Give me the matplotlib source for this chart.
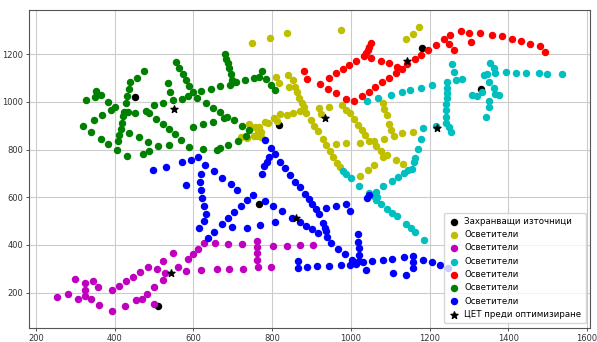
import matplotlib
matplotlib.use("Agg")
import matplotlib.pyplot as plt

# Захранващи източници (black dots)
src_x = [452, 817, 1181, 1330, 767, 509]
src_y = [1022, 904, 1228, 1053, 572, 143]

# ЦЕТ преди оптимизиране (stars)
cet_x = [551, 933, 1142, 1218, 861, 544]
cet_y = [969, 932, 1173, 892, 515, 283]

# yellow group
yel_x = [750, 795, 837, 974, 1139, 1157, 1174,
         810, 818, 840, 852, 844, 858, 862, 867, 875, 882, 886, 870, 852, 838, 821, 805,
         812, 790, 783, 767, 772, 762, 771, 741, 756, 721, 735, 755, 765,
         899, 907, 917, 928, 937, 947, 955, 966, 973,
         920, 924, 945, 962, 988,
         978, 987, 998, 1008, 1018, 1028, 1037, 1047, 1059, 1064, 1077, 1081, 1091,
         1044, 1059, 1024, 1023,
         1081, 1085, 1091, 1098, 1101, 1110, 1129, 1157, 1084, 1115, 1132]
yel_y = [1249, 1270, 1288, 1302, 1263, 1286, 1316,
         1104, 1080, 1114, 1091, 1064, 1063, 1040, 1017, 994, 977, 953, 964, 954, 945, 949, 934,
         922, 911, 916, 893, 874, 857, 853, 906, 894, 852, 848, 858, 880,
         923, 899, 876, 843, 818, 795, 769, 742, 725,
         976, 951, 980, 824, 827,
         987, 967, 952, 928, 904, 882, 860, 837, 836, 813, 796, 767, 777,
         715, 736, 690, 827,
         994, 969, 947, 909, 883, 856, 869, 874, 844, 757, 740]

# magenta group
mag_x = [253, 281, 300, 308, 324, 324, 324, 339, 345, 357, 360, 393, 394, 411, 428, 427,
         447, 454, 469, 464, 482, 485, 500, 499, 507, 523, 523, 528, 547, 560, 582, 586,
         598, 612, 619,
         627, 656, 689, 724, 761, 762, 762, 762, 764, 801, 837, 871, 904,
         659, 690, 726, 797]
mag_y = [182, 195, 258, 175, 240, 212, 185, 173, 248, 224, 150, 209, 122, 228, 248, 143,
         267, 167, 173, 286, 195, 309, 224, 152, 297, 333, 254, 284, 367, 307, 291, 340,
         360, 384, 296,
         410, 407, 405, 402, 417, 393, 368, 337, 306, 396, 396, 400, 400,
         300, 300, 301, 307]

# cyan group
cya_x = [979, 988, 1000, 1021, 1047, 1063, 1067, 1064, 1059,
         1077, 1092, 1104, 1117, 1139, 1152, 1164, 1187,
         1082, 1104, 1119, 1135, 1146, 1156, 1160, 1164, 1170, 1178, 1183,
         1040, 1070, 1101, 1129, 1151, 1178, 1207, 1215,
         1245, 1245, 1244, 1244, 1242, 1242, 1242, 1242, 1248, 1254,
         1256, 1261, 1266, 1282,
         1354, 1364, 1366, 1338, 1345, 1351, 1363, 1366, 1376, 1332, 1320, 1308, 1350, 1351, 1344,
         1395, 1419, 1446, 1479, 1498, 1537]
cya_y = [712, 698, 680, 649, 617, 620, 603, 589, 606,
         571, 551, 536, 520, 487, 470, 454, 420,
         646, 669, 684, 701, 715, 718, 747, 763, 802, 845, 889,
         1005, 1018, 1031, 1041, 1048, 1057, 1069, 899,
         1083, 1057, 1036, 1015, 992, 966, 935, 913, 893, 873,
         1158, 1124, 1092, 1095,
         1163, 1144, 1123, 1113, 1117, 1084, 1057, 1032, 1028, 1042, 1024, 1031, 1005, 979, 938,
         1126, 1123, 1123, 1123, 1116, 1116]

# red group
red_x = [1050, 1046, 1043, 1038, 1034, 1052, 1077, 1096, 1116, 1114, 1096, 1079, 1062, 1046,
         1028, 1008, 988, 962, 943, 921, 888, 882, 945, 963, 980, 996, 1012,
         1129, 1143, 1162, 1178, 1195, 1216, 1237, 1252, 1249, 1263, 1279, 1299, 1304,
         1329, 1358, 1383, 1409, 1432, 1456, 1481, 1493]
red_y = [1246, 1232, 1218, 1204, 1193, 1186, 1172, 1162, 1148, 1123, 1102, 1083, 1062, 1043,
         1025, 1004, 1013, 1036, 1056, 1074, 1095, 1131, 1099, 1123, 1137, 1154, 1172,
         1138, 1159, 1180, 1198, 1218, 1239, 1264, 1282, 1243, 1217, 1296, 1289, 1253,
         1289, 1282, 1277, 1265, 1256, 1244, 1235, 1210]

# green group
grn_x = [556, 564, 573, 581, 590, 598, 608, 587, 572, 547, 535, 540, 522, 499,
         475, 456, 440, 436, 432, 429, 424, 433, 452, 480, 486, 504, 523, 539, 552, 569, 588,
         598, 625, 649, 631, 650, 668, 677, 685, 703, 724, 742, 733, 712, 689, 668, 660, 625,
         421, 418, 415, 411, 409, 407, 431, 437, 461, 485, 487, 473, 510, 539,
         400, 391, 384, 368, 347, 319, 340, 365, 383, 326, 350, 352, 364,
         620, 645, 667, 692, 702, 708, 679, 683, 687, 691, 695, 699,
         732, 753, 767, 774, 785, 796, 807]
grn_y = [1168, 1141, 1116, 1090, 1065, 1041, 1015, 1025, 1012, 1007, 1080, 1041, 997, 986,
         1129, 1099, 1085, 1056, 1025, 997, 959, 957, 955, 961, 953, 930, 906, 886, 865, 840, 811,
         894, 907, 916, 996, 976, 958, 933, 937, 924, 901, 883, 859, 838, 821, 805, 798, 804,
         939, 912, 886, 862, 836, 798, 774, 870, 852, 833, 794, 783, 815, 818,
         980, 965, 999, 944, 924, 901, 875, 846, 824, 1007, 1020, 1047, 1028,
         1046, 1054, 1065, 1073, 1084, 1084, 1201, 1182, 1164, 1141, 1116, 1092,
         1094, 1100, 1106, 1131, 1098, 1071, 1050]

# blue group
blu_x = [498, 530, 570, 593, 612,
         630, 652, 673, 695, 710,
         620, 617, 619, 623, 627, 631, 626, 615, 581,
         783, 796, 807, 793, 787, 780, 773,
         820, 833, 845, 859, 871, 883, 894, 902, 911, 920, 930, 934, 937, 939, 949, 968, 985, 1003,
         751, 737, 721, 704, 688, 673, 652, 638,
         781, 801, 824, 807, 851, 871, 886, 901, 917,
         697, 737, 770,
         936, 962, 988, 999,
         1045, 1041,
         1017, 1018, 1020, 1021, 1021, 1032, 1038, 1054, 1081, 1105, 1107, 1135, 1159, 1159, 1159,
         1140, 1184, 1207, 1227, 1246,
         865, 865, 888, 913, 945, 975, 998, 1013]
blu_y = [714, 725, 746, 758, 771,
         736, 709, 679, 654, 632,
         697, 662, 632, 597, 564, 529, 501, 470, 653,
         839, 806, 781, 769, 748, 730, 699,
         746, 722, 694, 666, 643, 614, 591, 571, 551, 528, 494, 473, 459, 435, 408, 383, 363, 338,
         608, 589, 565, 539, 512, 488, 454, 428,
         583, 562, 542, 498, 515, 497, 480, 466, 451,
         475, 472, 484,
         557, 565, 572, 542,
         608, 596,
         445, 414, 387, 358, 333, 330, 293, 334, 337, 342, 282, 348, 354, 329, 302,
         272, 337, 327, 316, 305,
         333, 303, 307, 310, 312, 315, 317, 318]

fig = plt.figure(figsize=(5.97, 3.42), dpi=100)
ax = fig.add_axes([0.049, 0.042, 0.939, 0.929])

s = 19
ax.scatter(src_x, src_y, s=s, c='k', label='Захранващи източници')
ax.scatter(yel_x, yel_y, s=s, c='y', label='Осветители')
ax.scatter(mag_x, mag_y, s=s, c='m', label='Осветители')
ax.scatter(cya_x, cya_y, s=s, c='c', label='Осветители')
ax.scatter(red_x, red_y, s=s, c='r', label='Осветители')
ax.scatter(grn_x, grn_y, s=s, c='g', label='Осветители')
ax.scatter(blu_x, blu_y, s=s, c='b', label='Осветители')
ax.scatter(cet_x, cet_y, s=28, c='k', marker='*', label='ЦЕТ преди оптимизиране')

ax.set_xlim(183, 1607)
ax.set_ylim(53, 1386)
ax.set_xticks(range(200, 1601, 200))
ax.set_yticks(range(200, 1201, 200))
ax.tick_params(labelsize=6, length=2.5, width=0.6, colors='#333333', pad=2)
ax.grid(True, color='#cccccc', linewidth=0.8)
ax.set_axisbelow(True)
for sp in ax.spines.values():
    sp.set_color('#555555')
    sp.set_linewidth(0.8)

ax.legend(loc='lower right', fontsize=6.2, labelspacing=0.5, handletextpad=0.6,
          borderpad=0.5, markerscale=1.0, framealpha=0.8, edgecolor='#cccccc',
          fancybox=True, handlelength=1.2)

fig.savefig('out.png', dpi=100)
